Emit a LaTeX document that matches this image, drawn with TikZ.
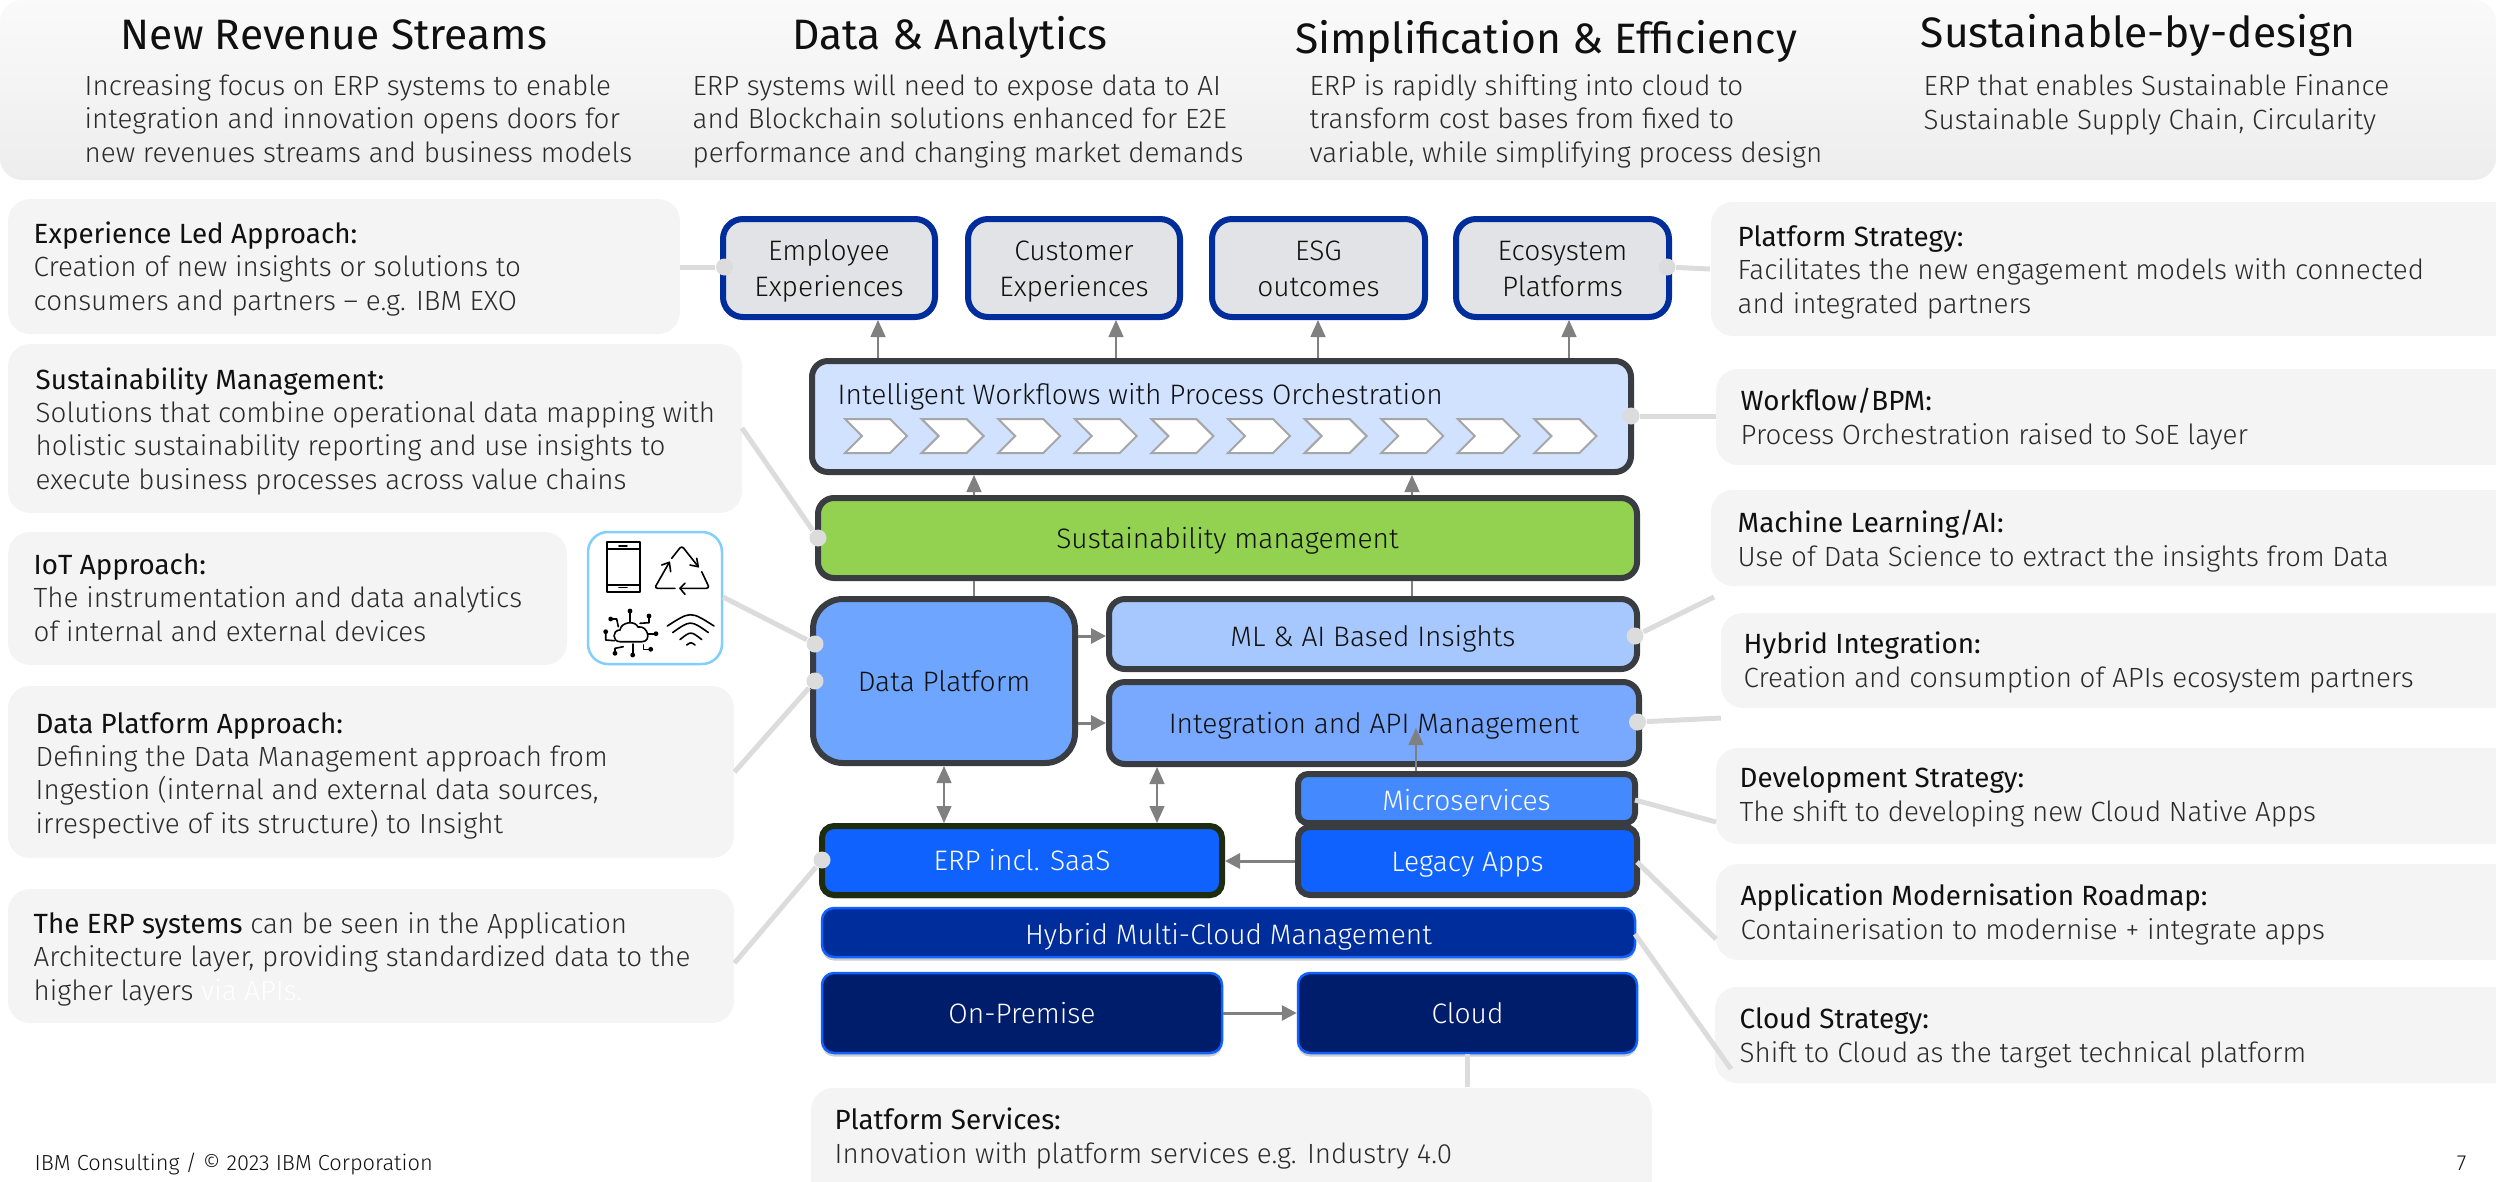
\documentclass[tikz,border=0pt]{standalone}
\usepackage{fontspec}
\setmainfont{Fira Sans}[UprightFont=* Light,BoldFont=*]
\usetikzlibrary{arrows.meta,shadows,calc}
\newdimen\pxu \pxu=0.01cm
\definecolor{tint}{HTML}{F4F4F4}
\definecolor{ink}{HTML}{101010}
\definecolor{body}{HTML}{2A2A2A}
\definecolor{edge}{HTML}{393D42}
\definecolor{ibmblue}{HTML}{002D9C}
\definecolor{conn}{HTML}{DCDCDC}
\definecolor{arrowgrey}{HTML}{808080}
\definecolor{wfblue}{HTML}{D0E2FF}
\definecolor{susgreen}{HTML}{92D250}
\definecolor{dpblue}{HTML}{6EA6FF}
\definecolor{mlblue}{HTML}{A6C8FF}
\definecolor{intblue}{HTML}{78A9FF}
\definecolor{micblue}{HTML}{4589FF}
\definecolor{appblue}{HTML}{0F62FE}
\definecolor{deepblue}{HTML}{001D6C}
\definecolor{erpedge}{HTML}{1E2D0F}
\definecolor{iconedge}{HTML}{82CFFF}
\definecolor{chanfill}{HTML}{E1E3E6}
\newcommand{\bodyfont}{\fontsize{7.9pt}{9.39pt}\selectfont}
\newcommand{\labelfont}{\fontsize{8pt}{9.96pt}\selectfont}
\newcommand{\headfont}{\fontsize{12.1pt}{14pt}\selectfont\bfseries}
\newcommand{\footfont}{\fontsize{6.2pt}{8pt}\selectfont}
\newcommand{\hd}[1]{{\bfseries\color{ink}#1}}
\newcommand{\chl}{\rule[-6\pxu]{0pt}{33\pxu}}
\tikzset{
 x=0.01cm,y=-0.01cm,
 tbox/.style={fill=tint,rounded corners=22*\pxu,inner sep=0pt},
 ttext/.style={anchor=base west,align=left,inner sep=0pt,font=\bodyfont,text=body},
 headtext/.style={anchor=base,inner sep=0pt,font=\headfont,text=ink},
 layer/.style={draw=edge,line width=6*\pxu,rounded corners=16*\pxu,font=\labelfont,text=ink,inner sep=0pt,align=center,text height=25*\pxu,text depth=5*\pxu},
 chan/.style={draw=ibmblue,fill=chanfill,line width=6*\pxu,rounded corners=20*\pxu,font=\labelfont,text=ink,inner sep=0pt,align=center},
 softshadow/.style={drop shadow={shadow xshift=0pt,shadow yshift=-1pt,fill=black,opacity=.2}},
 solidbox/.style={draw=appblue,line width=2.5*\pxu,rounded corners=12*\pxu,font=\labelfont,text=white,inner sep=0pt,softshadow,text height=25*\pxu,text depth=5*\pxu},
 conline/.style={draw=conn,line width=5*\pxu},
 dotmark/.style={circle,fill=conn,minimum size=17*\pxu,inner sep=0pt},
 thinarr/.style={draw=arrowgrey,line width=1.5*\pxu,-{Triangle[length=0.17cm,width=0.15cm]}},
 thickarr/.style={draw=arrowgrey,line width=3*\pxu,-{Triangle[length=0.15cm,width=0.15cm]}},
 biarr/.style={draw=arrowgrey,line width=1.5*\pxu,{Triangle[length=0.17cm,width=0.15cm]}-{Triangle[length=0.17cm,width=0.15cm]}},
 stub/.style={draw=arrowgrey,line width=1.5*\pxu},
 chev/.style={draw=gray!70,fill=white,line width=2*\pxu},
 icon/.style={draw=black,line width=1.6*\pxu,line cap=round,line join=round},
}
% style, name, x0,y0,x1,y1, text
\newcommand{\bx}[7]{\node[#1,minimum width={(#5-#3)*\pxu},minimum height={(#6-#4)*\pxu}] (#2) at ({(#3+#5)/2},{(#4+#6)/2}) {#7};}
% name, x0,y0,x1,y1, tx,ty(last baseline), text
\newcommand{\tb}[8]{\node[tbox,minimum width={(#4-#2)*\pxu},minimum height={(#5-#3)*\pxu}] (#1) at ({(#2+#4)/2},{(#3+#5)/2}) {};
 \node[ttext] (#1t) at (#6,#7) {#8};}
\newcommand{\chv}[1]{\draw[chev] (#1,419) -- ++(45,0) -- ++(17,17) -- ++(-17,17) -- ++(-45,0) -- ++(17,-17) -- cycle;}
\begin{document}
\begin{tikzpicture}
\useasboundingbox (0,0) rectangle (2496,1181);
\clip (0,0) rectangle (2496,1181);
% header band
\shade[top color=black!2,bottom color=black!7,rounded corners=22*\pxu] (0,0) rectangle (2496,180);
\node[headtext] (h1) at (334,49) {New Revenue Streams};
\node[headtext] (h2) at (950,49) {Data \& Analytics};
\node[headtext] (h3) at (1546,53) {Simplification \& Efficiency};
\node[headtext] (h4) at (2138,47) {Sustainable-by-design};
\node[ttext] (p1) at (84,162) {Increasing focus on ERP systems to enable\\integration and innovation opens doors for\\new revenues streams and business models};
\node[ttext] (p2) at (692,162) {ERP systems will need to expose data to AI\\and Blockchain solutions enhanced for E2E\\performance and changing market demands};
\node[ttext] (p3) at (1309,162) {ERP is rapidly shifting into cloud to\\transform cost bases from fixed to\\variable, while simplifying process design};
\node[ttext] (p4) at (1923,129) {ERP that enables Sustainable Finance\\Sustainable Supply Chain, Circularity};
% text boxes left
\tb{l1}{8}{199}{680}{334}{33}{310}{\hd{Experience Led Approach:}\\Creation of new insights or solutions to\\consumers and partners – e.g. IBM EXO}
\tb{l2}{8}{344}{742}{513}{35}{489}{\hd{Sustainability Management:}\\Solutions that combine operational data mapping with\\holistic sustainability reporting and use insights to\\execute business processes across value chains}
\tb{l3}{8}{532}{567}{665}{33}{641}{\hd{IoT Approach:}\\The instrumentation and data analytics\\of internal and external devices}
\tb{l4}{8}{686}{734}{858}{35}{833}{\hd{Data Platform Approach:}\\Defining the Data Management approach from\\Ingestion (internal and external data sources,\\irrespective of its structure) to Insight}
\tb{l5}{8}{889}{734}{1023}{33}{1000}{\hd{The ERP systems} can be seen in the Application\\Architecture layer, providing standardized data to the\\higher layers \textcolor{white}{via APIs.}}
% text boxes right
\tb{r1}{1711}{202}{2530}{336}{1737}{313}{\hd{Platform Strategy:}\\Facilitates the new engagement models with connected\\and integrated partners}
\tb{r2}{1716}{369}{2530}{465}{1740}{444}{\hd{Workflow/BPM:}\\Process Orchestration raised to SoE layer}
\tb{r3}{1711}{490}{2530}{586}{1737}{566}{\hd{Machine Learning/AI:}\\Use of Data Science to extract the insights from Data}
\tb{r4}{1721}{613}{2530}{708}{1743}{687}{\hd{Hybrid Integration:}\\Creation and consumption of APIs ecosystem partners}
\tb{r5}{1716}{748}{2530}{844}{1739}{821}{\hd{Development Strategy:}\\The shift to developing new Cloud Native Apps}
\tb{r6}{1716}{864}{2530}{960}{1740}{939}{\hd{Application Modernisation Roadmap:}\\Containerisation to modernise + integrate apps}
\tb{r7}{1715}{987}{2530}{1083}{1739}{1062}{\hd{Cloud Strategy:}\\Shift to Cloud as the target technical platform}
\tb{b1}{811}{1088}{1652}{1220}{834}{1163}{\hd{Platform Services:}\\Innovation with platform services e.g. Industry 4.0}
% footer
\node[anchor=base west,inner sep=0pt,font=\footfont,text=ink] (foot) at (34,1170) {IBM Consulting / © 2023 IBM Corporation};
\node[anchor=base east,inner sep=0pt,font=\footfont,text=ink] (pageno) at (2467,1170) {7};
% top channels
\bx{chan}{emp}{723}{219}{935}{317}{\chl Employee\\\chl Experiences}
\bx{chan}{cus}{968}{219}{1180}{317}{\chl Customer\\\chl Experiences}
\bx{chan}{esg}{1212}{219}{1425}{317}{\chl ESG\\\chl outcomes}
\bx{chan}{eco}{1456}{219}{1669}{317}{\chl Ecosystem\\\chl Platforms}
% layers
\bx{layer,fill=wfblue}{wf}{812}{361}{1631}{472}{}
\node[anchor=base west,inner sep=0pt,font=\labelfont,text=ink] (wft) at (837,404) {Intelligent Workflows with Process Orchestration};
\foreach \i in {0,...,9}{\chv{\fpeval{845+76.6*\i}}}
\bx{layer,fill=susgreen}{sus}{818}{498}{1637}{578}{Sustainability management}
\bx{layer,rounded corners=30*\pxu,fill=dpblue}{dp}{813}{599}{1075}{763}{Data Platform}
\bx{layer,fill=mlblue,text height=29*\pxu}{ml}{1109}{599}{1637}{669}{ML \& AI Based Insights}
\bx{layer,fill=intblue}{int}{1109}{682}{1639}{764}{Integration and API Management}
\bx{layer,rounded corners=10*\pxu,fill=micblue,text=white,text height=29*\pxu}{mic}{1298}{774}{1635}{823}{Microservices}
\bx{layer,rounded corners=12*\pxu,fill=appblue,text=white}{leg}{1298}{827}{1637}{895}{Legacy Apps}
\bx{layer,rounded corners=12*\pxu,draw=erpedge,fill=appblue,text=white,softshadow}{erp}{822}{826}{1222}{895}{ERP incl. SaaS}
\bx{solidbox,fill=ibmblue,text height=29*\pxu}{hyb}{822}{908}{1635}{957}{Hybrid Multi-Cloud Management}
\bx{solidbox,fill=deepblue}{onp}{822}{973}{1222}{1053}{On-Premise}
\bx{solidbox,fill=deepblue}{cld}{1298}{973}{1637}{1053}{Cloud}
% arrows
\coordinate (a1) at (878,0);\coordinate (a2) at (1116,0);\coordinate (a3) at (1318,0);\coordinate (a4) at (1569,0);
\coordinate (a5) at (974,0);\coordinate (a6) at (1412,0);\coordinate (a7) at (944,0);\coordinate (a8) at (1157,0);\coordinate (a9) at (1416,0);
\coordinate (a10) at (1467,0);
\coordinate (b1y) at (0,636);\coordinate (b2y) at (0,723);\coordinate (b3y) at (0,861);\coordinate (b4y) at (0,1013);
\draw[thinarr] (wf.north -| a1) -- (emp.south -| a1);
\draw[thinarr] (wf.north -| a2) -- (cus.south -| a2);
\draw[thinarr] (wf.north -| a3) -- (esg.south -| a3);
\draw[thinarr] (wf.north -| a4) -- (eco.south -| a4);
\draw[thinarr] (sus.north -| a5) -- (wf.south -| a5);
\draw[thinarr] (sus.north -| a6) -- (wf.south -| a6);
\draw[stub] (sus.south -| a5) -- (dp.north -| a5);
\draw[stub] (sus.south -| a6) -- (ml.north -| a6);
\draw[thickarr] (dp.east |- b1y) -- (ml.west |- b1y);
\draw[thickarr] (dp.east |- b2y) -- (int.west |- b2y);
\draw[biarr] (dp.south -| a7) -- (erp.north -| a7);
\draw[biarr] (int.south -| a8) -- (erp.north -| a8);
\coordinate (a9t) at (1416,728);
\draw[thinarr] (mic.north -| a9) -- (a9t);
\draw[thickarr] (leg.west |- b3y) -- (erp.east |- b3y);
\draw[thickarr] (onp.east |- b4y) -- (cld.west |- b4y);
% icon box
\node[draw=iconedge,fill=white,line width=2.5*\pxu,rounded corners=20*\pxu,minimum width=134*\pxu,minimum height=132*\pxu,inner sep=0pt] (icons) at (655,598) {};
\draw[icon] (607,542) rectangle (640,592);
\draw[icon] (607,549) -- (640,549) (607,585) -- (640,585);
\draw[icon] (619,546) -- (627,546) (619,587.5) -- (627,587.5);
\draw[icon,rounded corners=3*\pxu] (671.7,558.3) -- (681.7,545.7) -- (698.3,566.7);
\draw[icon] (690,565) -- (698.3,566.7) -- (696.7,558.3);
\draw[icon,rounded corners=3*\pxu] (701.7,571.7) -- (709.5,588.3) -- (680,588.3);
\draw[icon] (685,583.3) -- (680,588.3) -- (685,594.3);
\draw[icon,rounded corners=3*\pxu] (675,588.3) -- (654.5,588.3) -- (669.3,562.3);
\draw[icon] (661.7,565) -- (669.3,562.3) -- (670.7,571.7);
\draw[icon] (620,641.7) .. controls (612,641.7) and (612,630) .. (620,630) .. controls (621,622) and (635,620) .. (638,627) .. controls (648,625) and (652,641.7) .. (642,641.7) -- cycle;
\draw[icon] (630,611) -- (630,621.7);
\draw[icon] (610.7,619) -- (616.7,619) -- (618.3,626.7);
\draw[icon] (649,616) -- (649,622.7) -- (640,623.3);
\draw[icon] (605.7,631.7) -- (605.7,640) -- (614.3,640.7);
\draw[icon] (656,633.7) -- (648.3,633.7);
\draw[icon] (615,653.3) -- (615,648.3) -- (623.3,646.7);
\draw[icon] (632.7,655) -- (632.7,644);
\draw[icon] (650.7,649.3) -- (643.3,649.3) -- (643.3,645);
\foreach \a/\b in {630/611,610.7/619,649/616,605.7/631.7,656/633.7,615/653.3,632.7/655,650.7/649.3}{\fill (\a,\b) circle (2.4);}
\draw[icon] (667.3,626) .. controls (690.6,611) .. (714,626);
\draw[icon] (672.7,632.5) .. controls (690.5,620) .. (708.3,632.5);
\draw[icon] (680,639.5) .. controls (690.8,631) .. (701.7,639.5);
\draw[icon] (686.7,645) .. controls (691,642) .. (695,645);
% callout connectors
\coordinate (c1) at (680,267);\coordinate (c2) at (1710,269);\coordinate (c3) at (1716,416);
\coordinate (c4) at (742,428);\coordinate (c5) at (723,597);\coordinate (c6) at (1714,597);
\coordinate (c7) at (734.5,772);\coordinate (c8) at (1721,718);\coordinate (c9) at (1716,822);
\coordinate (c10) at (1716,939);\coordinate (c11) at (734.5,963);\coordinate (c12) at (1731,1069);
\coordinate (s9) at (1635,800);\coordinate (s10) at (1637,862);\coordinate (s12) at (1635,934);
\node[dotmark] (d1) at (724.5,267) {};
\node[dotmark] (d2) at (1667,267) {};
\node[dotmark] (d3) at (1631,416) {};
\node[dotmark] (d4) at (818,538) {};
\node[dotmark] (d5) at (815,644) {};
\node[dotmark] (d6) at (1635,636) {};
\node[dotmark] (d7) at (815,681) {};
\node[dotmark] (d8) at (1637.5,722) {};
\node[dotmark] (d9) at (822,860) {};
\draw[conline] (c1) -- (d1);
\draw[conline] (d2) -- (c2);
\draw[conline] (d3) -- (c3);
\draw[conline] (c4) -- (d4);
\draw[conline] (c5) -- (d5);
\draw[conline] (d6) -- (c6);
\draw[conline] (c7) -- (d7);
\draw[conline] (d8) -- (c8);
\draw[conline] (s9) -- (c9);
\draw[conline] (s10) -- (c10);
\draw[conline] (c11) -- (d9);
\draw[conline] (s12) -- (c12);
\draw[conline] (cld.south -| a10) -- (b1.north -| a10);
\end{tikzpicture}
\end{document}
